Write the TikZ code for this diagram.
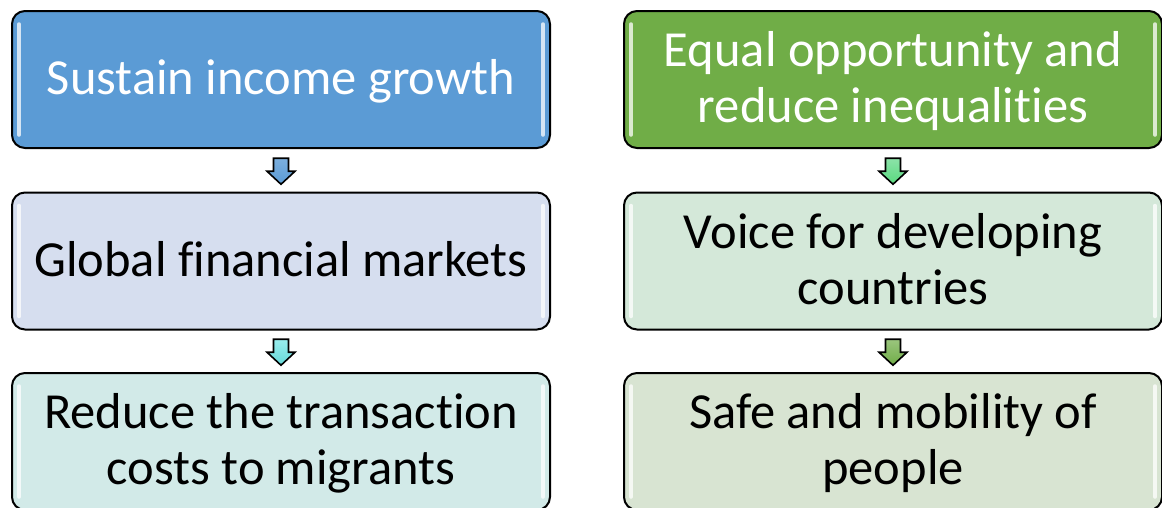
\documentclass[tikz,border=0pt]{standalone}
\usepackage{fontspec}
\setmainfont[Ligatures=NoCommon]{Carlito}
\usepackage{tikz}
\usetikzlibrary{positioning, calc}

\definecolor{blueA}{HTML}{5B9BD5}
\definecolor{blueB}{HTML}{D6DEEF}
\definecolor{tealC}{HTML}{D2EAE8}
\definecolor{greenA}{HTML}{70AD47}
\definecolor{greenB}{HTML}{D4E8D9}
\definecolor{greenC}{HTML}{D8E4D2}

\newcommand{\boxtext}[1]{\raisebox{-4pt}[\height][\depth]{\begin{tabular}{@{}c@{}}#1\end{tabular}}}

\begin{document}
\begin{tikzpicture}[x=1pt, y=-1pt,
		goalbox/.style={draw=black, line width=2pt, rounded corners=13pt, minimum width=538pt, minimum height=137pt, inner sep=0pt, font=\fontsize{50.5}{56}\selectfont},
		gloss/.style={white, line width=3.5pt, line cap=round, opacity=0.75},
		flowarrow/.style={draw=black, line width=1.6pt, line join=miter}]
		
		\useasboundingbox (0,0) rectangle (1162,507);
		\clip (0,0) rectangle (1162,507);
		
		% Left column
		\node[goalbox, fill=blueA, text=white] (l1) at (281, 79.5) {\boxtext{Sustain income growth}};
		\node[goalbox, fill=blueB] (l2) at (281, 261) {\boxtext{Global financial markets}};
		\node[goalbox, fill=tealC] (l3) at (281, 441.5) {\boxtext{Reduce the transaction\\costs to migrants}};
		
		% Right column
		\node[goalbox, fill=greenA, text=white] (r1) at (893, 79.5) {\boxtext{Equal opportunity and\\reduce inequalities}};
		\node[goalbox, fill=greenB] (r2) at (893, 261) {\boxtext{Voice for developing\\countries}};
		\node[goalbox, fill=greenC] (r3) at (893, 441.5) {\boxtext{Safe and mobility of\\people}};
		
		% Gloss strips
		\foreach \b in {l1, l2, l3, r1, r2, r3} {
			\draw[gloss] ($(\b.north west)+(8,14)$) -- ($(\b.south west)+(8,-14)$);
			\draw[gloss] ($(\b.north east)+(-8,14)$) -- ($(\b.south east)+(-8,-14)$);
		}
		
		% Arrows
		\coordinate (al1) at ($(l1.south)!0.5!(l2.north)$);
		\coordinate (al2) at ($(l2.south)!0.5!(l3.north)$);
		\coordinate (ar1) at ($(r1.south)!0.5!(r2.north)$);
		\coordinate (ar2) at ($(r2.south)!0.5!(r3.north)$);
		
		\draw[flowarrow, top color=blueA!80!white, bottom color=blueA, shift={(al1)}] (-7.5,-12) -- (7.5,-12) -- (7.5,1) -- (14,1) -- (0,14) -- (-14,1) -- (-7.5,1) -- cycle;
		\draw[flowarrow, top color=teal!35!cyan!40, bottom color=teal!50!cyan!60, shift={(al2)}] (-7.5,-12) -- (7.5,-12) -- (7.5,1) -- (14,1) -- (0,14) -- (-14,1) -- (-7.5,1) -- cycle;
		\draw[flowarrow, top color=green!50!teal!45, bottom color=green!55!teal!65, shift={(ar1)}] (-7.5,-12) -- (7.5,-12) -- (7.5,1) -- (14,1) -- (0,14) -- (-14,1) -- (-7.5,1) -- cycle;
		\draw[flowarrow, top color=greenA!70!white, bottom color=greenA, shift={(ar2)}] (-7.5,-12) -- (7.5,-12) -- (7.5,1) -- (14,1) -- (0,14) -- (-14,1) -- (-7.5,1) -- cycle;
		
	\end{tikzpicture}
\end{document}
